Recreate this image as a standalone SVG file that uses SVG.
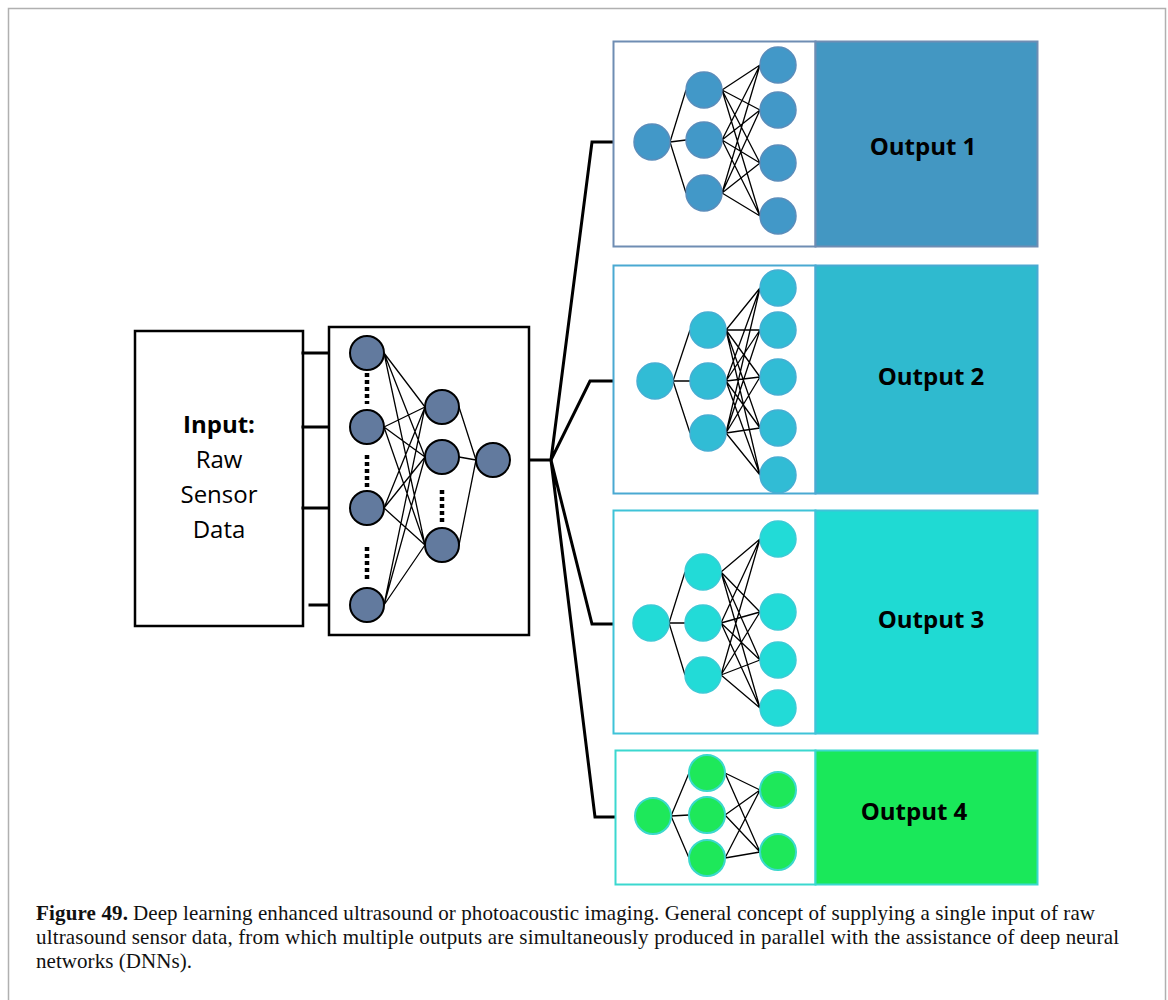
<svg xmlns="http://www.w3.org/2000/svg" width="1168" height="1000" viewBox="0 0 1168 1000">
<style>
.frame{fill:#fff;stroke:#b0b0b0;stroke-width:1.5}
.box{fill:#fff;stroke:#000;stroke-width:2.5}
.thick{fill:none;stroke:#000;stroke-width:3;stroke-linecap:square}
.thin{fill:none;stroke:#000;stroke-width:1.3}
.dots{fill:none;stroke:#000;stroke-width:4.5;stroke-dasharray:4 3}
.inode{fill:#627a9e;stroke:#000;stroke-width:2}
.lbl{font-family:"Open Sans","Noto Sans",sans-serif;font-size:24px;fill:#000;text-anchor:middle}
.out{font-family:"Open Sans","Noto Sans",sans-serif;font-size:24px;font-weight:bold;fill:#000;text-anchor:middle}
.cap{font-family:"Liberation Serif","Times New Roman",serif;font-size:21px;fill:#111}
.n1{fill:#4298c8;stroke:#5a8dbb;stroke-width:1.5}
.n2{fill:#31bcd5;stroke:#46aed3;stroke-width:1.5}
.n3{fill:#22dbd7;stroke:#3ccbd6;stroke-width:1.5}
.n4{fill:#1ee85a;stroke:#3bd8cc;stroke-width:2}
</style>
<rect class="frame" x="8.5" y="8.5" width="1157" height="1000"/>

<g id="input-box">
<rect class="box" x="135" y="331" width="168" height="295"/>
<text class="lbl" x="219" y="433" font-weight="bold">Input:</text>
<text class="lbl" x="219" y="468">Raw</text>
<text class="lbl" x="219" y="503">Sensor</text>
<text class="lbl" x="219" y="538">Data</text>
</g>

<g id="connectors">
<path class="thick" d="M303 353H350M303 427H350M303 508H350M310 605H350"/>
<path class="thick" d="M510 460H551"/>
<path class="thick" d="M551 460L592 142H634M551 460L590 381H637M551 460L592 624H633M551 460L595 817H635" stroke-linejoin="miter"/>
</g>

<g id="input-network">
<rect class="box" x="329" y="327" width="200" height="308"/>
<path class="thin" d="M384 353L425 407M384 353L425 457M384 353L425 545M384 427L425 407M384 427L425 457M384 427L425 545M384 508L425 407M384 508L425 457M384 508L425 545M384 605L425 407M384 605L425 457M384 605L425 545M459 407L476 460M459 457L476 460M459 545L476 460"/>
<path class="dots" d="M367 373V404M367 455V488M367 547V581M442 490V524"/>
<circle class="inode" cx="367" cy="353" r="17"/>
<circle class="inode" cx="367" cy="427" r="17"/>
<circle class="inode" cx="367" cy="508" r="17"/>
<circle class="inode" cx="367" cy="605" r="17"/>
<circle class="inode" cx="442" cy="407" r="17"/>
<circle class="inode" cx="442" cy="457" r="17"/>
<circle class="inode" cx="442" cy="545" r="17"/>
<circle class="inode" cx="493" cy="460" r="17"/>
</g>

<g id="output-1">
<rect x="613.5" y="41.5" width="202" height="205" fill="#fff" stroke="#6f8db3" stroke-width="2"/>
<rect x="815.5" y="41.5" width="222" height="205" fill="#4397c2" stroke="#6f8db3" stroke-width="2"/>
<path class="thin" d="M670 142L686 90M670 142L686 140M670 142L686 193M722 90L760 65M722 90L760 110M722 90L760 163M722 90L760 216M722 140L760 65M722 140L760 110M722 140L760 163M722 140L760 216M722 193L760 65M722 193L760 110M722 193L760 163M722 193L760 216"/>
<circle class="n1" cx="652" cy="142" r="18"/>
<circle class="n1" cx="704" cy="90" r="18"/>
<circle class="n1" cx="704" cy="140" r="18"/>
<circle class="n1" cx="704" cy="193" r="18"/>
<circle class="n1" cx="778" cy="65" r="18"/>
<circle class="n1" cx="778" cy="110" r="18"/>
<circle class="n1" cx="778" cy="163" r="18"/>
<circle class="n1" cx="778" cy="216" r="18"/>
<text class="out" x="923" y="155">Output 1</text>
</g>

<g id="output-2">
<rect x="613.5" y="265.5" width="202" height="228" fill="#fff" stroke="#4aa9d2" stroke-width="2"/>
<rect x="815.5" y="265.5" width="222" height="228" fill="#2fbacf" stroke="#4aa9d2" stroke-width="2"/>
<path class="thin" d="M673 381L690 330M673 381L690 381M673 381L690 433M726 330L760 288M726 330L760 330M726 330L760 377M726 330L760 428M726 330L760 475M726 381L760 288M726 381L760 330M726 381L760 377M726 381L760 428M726 381L760 475M726 433L760 288M726 433L760 330M726 433L760 377M726 433L760 428M726 433L760 475"/>
<circle class="n2" cx="655" cy="381" r="18"/>
<circle class="n2" cx="708" cy="330" r="18"/>
<circle class="n2" cx="708" cy="381" r="18"/>
<circle class="n2" cx="708" cy="433" r="18"/>
<circle class="n2" cx="778" cy="288" r="18"/>
<circle class="n2" cx="778" cy="330" r="18"/>
<circle class="n2" cx="778" cy="377" r="18"/>
<circle class="n2" cx="778" cy="428" r="18"/>
<circle class="n2" cx="778" cy="475" r="18"/>
<text class="out" x="931" y="385">Output 2</text>
</g>

<g id="output-3">
<rect x="613.5" y="510.5" width="202" height="223" fill="#fff" stroke="#3fc3d8" stroke-width="2"/>
<rect x="815.5" y="510.5" width="222" height="223" fill="#1fdad3" stroke="#3fc3d8" stroke-width="2"/>
<path class="thin" d="M669 623L685 572M669 623L685 623M669 623L685 675M721 572L760 539M721 572L760 612M721 572L760 660M721 572L760 708M721 623L760 539M721 623L760 612M721 623L760 660M721 623L760 708M721 675L760 539M721 675L760 612M721 675L760 660M721 675L760 708"/>
<circle class="n3" cx="651" cy="623" r="18"/>
<circle class="n3" cx="703" cy="572" r="18"/>
<circle class="n3" cx="703" cy="623" r="18"/>
<circle class="n3" cx="703" cy="675" r="18"/>
<circle class="n3" cx="778" cy="539" r="18"/>
<circle class="n3" cx="778" cy="612" r="18"/>
<circle class="n3" cx="778" cy="660" r="18"/>
<circle class="n3" cx="778" cy="708" r="18"/>
<text class="out" x="931" y="628">Output 3</text>
</g>

<g id="output-4">
<rect x="615.5" y="750.5" width="200" height="134" fill="#fff" stroke="#3bd8cf" stroke-width="2"/>
<rect x="815.5" y="750.5" width="222" height="134" fill="#1ae85a" stroke="#3bd8cf" stroke-width="2"/>
<path class="thin" d="M671 816L689 773M671 816L689 815M671 816L689 858M725 773L760 790M725 773L760 852M725 815L760 790M725 815L760 852M725 858L760 790M725 858L760 852"/>
<circle class="n4" cx="653" cy="816" r="18"/>
<circle class="n4" cx="707" cy="773" r="18"/>
<circle class="n4" cx="707" cy="815" r="18"/>
<circle class="n4" cx="707" cy="858" r="18"/>
<circle class="n4" cx="778" cy="790" r="18"/>
<circle class="n4" cx="778" cy="852" r="18"/>
<text class="out" x="914" y="820">Output 4</text>
</g>

<g id="caption">
<text class="cap" x="36" y="920" font-weight="bold" textLength="92" lengthAdjust="spacing">Figure 49.</text>
<text class="cap" x="133" y="920" textLength="962" lengthAdjust="spacing">Deep learning enhanced ultrasound or photoacoustic imaging. General concept of supplying a single input of raw</text>
<text class="cap" x="36" y="944" textLength="1083" lengthAdjust="spacing">ultrasound sensor data, from which multiple outputs are simultaneously produced in parallel with the assistance of deep neural</text>
<text class="cap" x="36" y="968" textLength="156" lengthAdjust="spacing">networks (DNNs).</text>
</g>
</svg>
